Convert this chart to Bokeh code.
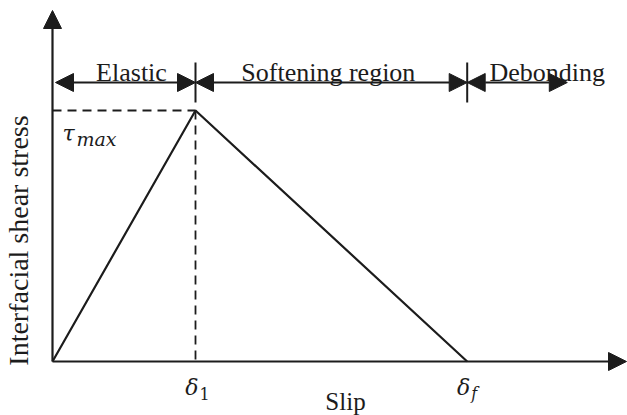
import math
from bokeh.plotting import figure
from bokeh.models import Range1d, Arrow, NormalHead, Label
from bokeh.embed import file_html
from bokeh.resources import INLINE

# Bilinear bond-slip law: slip values (δ) and interfacial shear stress (τ)
slip_points = [0.0, 1.0, 2.9]        # 0, δ1, δf
stress_points = [0.0, 1.0, 0.0]      # 0, τmax, 0
delta_1 = slip_points[1]
delta_f = slip_points[2]
tau_max = stress_points[1]

region_names = ["Elastic", "Softening region", "Debonding"]
region_bounds = [0.0, delta_1, delta_f, 3.6]

slip_tick_symbols = ["δ", "δ"]
slip_tick_subscripts = ["1", "f"]
slip_tick_subscript_italic = ["normal", "italic"]

x_title = "Slip"
y_title = "Interfacial shear stress"

INK = "#1c1c1c"
SERIF = "Liberation Serif"
MATH = "DejaVu Serif"

W, H = 627, 415
# plot frame covers the whole canvas; origin sits at pixel (52, 361)
ox, oy = 52.0, 361.0
sx, sy = 143.0, 251.0   # pixels per unit of slip / stress

x_range = Range1d(-ox / sx, (W - ox) / sx)
y_range = Range1d(-(H - oy) / sy, oy / sy)

p = figure(width=W, height=H, x_range=x_range, y_range=y_range,
           output_backend="svg", toolbar_location=None, min_border=0)
p.axis.visible = False
p.grid.visible = False
p.outline_line_color = None
p.background_fill_color = "white"
p.border_fill_color = "white"


def px(dx):
    return dx / sx


def py(dy):
    return dy / sy


def head(size=16):
    return NormalHead(size=size, fill_color=INK, line_color=INK, line_width=1)


# axes with arrow tips
p.add_layout(Arrow(end=head(18), x_start=0, y_start=0, x_end=0, y_end=py(351),
                   line_color=INK, line_width=2.2))
p.add_layout(Arrow(end=head(18), x_start=0, y_start=0, x_end=px(574), y_end=0,
                   line_color=INK, line_width=2.2))

# guide lines to the peak
p.line([0, delta_1], [tau_max, tau_max], line_color=INK, line_width=1.8, line_dash="9 6")
p.line([delta_1, delta_1], [tau_max, 0], line_color=INK, line_width=1.8, line_dash="9 6")

# the traction-separation curve
p.line(slip_points, stress_points, line_color=INK, line_width=2.2)

# region brackets above the curve
bracket_y = py(oy - 82)
tick_top, tick_bot = py(oy - 62), py(oy - 102)
p.segment(x0=[delta_1, delta_f], y0=[tick_top] * 2, x1=[delta_1, delta_f], y1=[tick_bot] * 2,
          line_color=INK, line_width=2)

starts = [region_bounds[0] + px(3), region_bounds[1], region_bounds[2]]
ends = region_bounds[1:]
for x0, x1 in zip(starts, ends):
    p.add_layout(Arrow(start=head(18), end=head(18), x_start=x0, y_start=bracket_y,
                       x_end=x1, y_end=bracket_y, line_color=INK, line_width=2))

label_y = py(oy - 72)
centers = [region_bounds[0] + px(79), (region_bounds[1] + region_bounds[2]) / 2 - px(3),
           region_bounds[2] + px(80)]
for name, cx in zip(region_names, centers):
    p.add_layout(Label(x=cx, y=label_y, text=name, text_align="center",
                       text_baseline="alphabetic", text_font=SERIF,
                       text_font_size="26px", text_color=INK))

# τmax label
p.add_layout(Label(x=px(10), y=py(oy - 133), text="τ", text_font=MATH,
                   text_font_style="italic", text_font_size="22px",
                   text_baseline="alphabetic", text_color=INK))
p.add_layout(Label(x=px(24), y=py(oy - 138), text="max", text_font=MATH,
                   text_font_style="italic", text_font_size="19px",
                   text_baseline="alphabetic", text_color=INK))

# slip tick labels δ1 and δf
for xv, sym, sub, st in zip([delta_1, delta_f], slip_tick_symbols,
                            slip_tick_subscripts, slip_tick_subscript_italic):
    p.add_layout(Label(x=xv + px(3), y=py(oy - 387), text=sym, text_font=MATH,
                       text_font_style="italic", text_font_size="22px",
                       text_align="right", text_baseline="alphabetic", text_color=INK))
    p.add_layout(Label(x=xv + px(4), y=py(oy - 393), text=sub, text_font=MATH,
                       text_font_style=st, text_font_size="16px",
                       text_align="left", text_baseline="alphabetic", text_color=INK))

# axis titles
p.add_layout(Label(x=px(293), y=py(oy - 401), text=x_title, text_font=SERIF,
                   text_font_size="25px", text_align="center",
                   text_baseline="alphabetic", text_color=INK))
p.add_layout(Label(x=px(-34), y=py(oy - 240), text=y_title, text_font=SERIF,
                   text_font_size="28px", text_align="center", angle=math.pi / 2,
                   text_baseline="middle", text_color=INK))

open("out.html", "w").write(file_html(p, INLINE))
